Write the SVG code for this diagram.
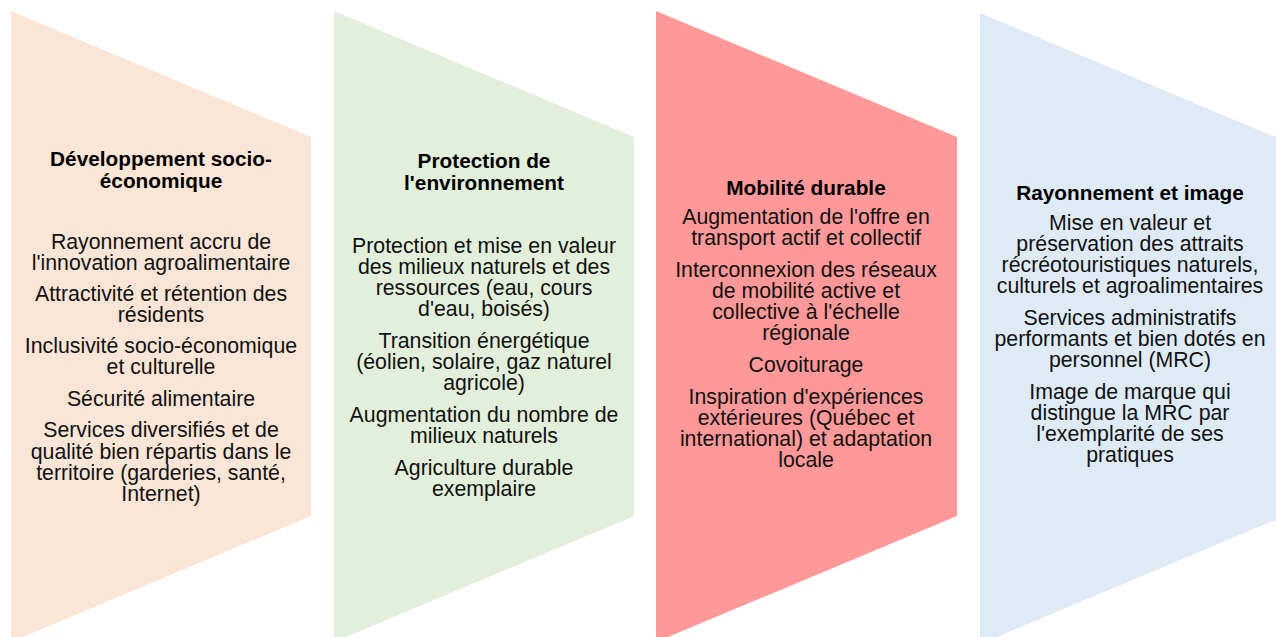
<svg xmlns="http://www.w3.org/2000/svg" width="1276" height="637" viewBox="0 0 1276 637">
<style>
text{font-family:"Liberation Sans",Arial,sans-serif;font-size:21.3px;fill:#111;text-anchor:middle}
.t{font-weight:bold;font-size:20.8px;fill:#000}
</style>
<rect width="1276" height="637" fill="#fff"/>
<g id="n1">
<polygon points="11,11 311,137 311,516 11,642" fill="#FBE5D6"/>
<text x="161" y="166" class="t">Développement socio-</text>
<text x="161" y="188" class="t">économique</text>
<text x="161" y="249">Rayonnement accru de</text>
<text x="161" y="270">l'innovation agroalimentaire</text>
<text x="161" y="301">Attractivité et rétention des</text>
<text x="161" y="322">résidents</text>
<text x="161" y="353">Inclusivité socio-économique</text>
<text x="161" y="374">et culturelle</text>
<text x="161" y="406">Sécurité alimentaire</text>
<text x="161" y="437">Services diversifiés et de</text>
<text x="161" y="459">qualité bien répartis dans le</text>
<text x="161" y="480">territoire (garderies, santé,</text>
<text x="161" y="501">Internet)</text>
</g>
<g id="n2">
<polygon points="334,11 634,137 634,516 334,642" fill="#E2EFDA"/>
<text x="484" y="168" class="t">Protection de</text>
<text x="484" y="190" class="t">l'environnement</text>
<text x="484" y="253">Protection et mise en valeur</text>
<text x="484" y="274">des milieux naturels et des</text>
<text x="484" y="295">ressources (eau, cours</text>
<text x="484" y="316">d'eau, boisés)</text>
<text x="484" y="348">Transition énergétique</text>
<text x="484" y="369">(éolien, solaire, gaz naturel</text>
<text x="484" y="390">agricole)</text>
<text x="484" y="422">Augmentation du nombre de</text>
<text x="484" y="443">milieux naturels</text>
<text x="484" y="475">Agriculture durable</text>
<text x="484" y="496">exemplaire</text>
</g>
<g id="n3">
<polygon points="656,11 957,137 957,516 656,642" fill="#FF9999"/>
<text x="806" y="195" class="t">Mobilité durable</text>
<text x="806" y="224">Augmentation de l'offre en</text>
<text x="806" y="245">transport actif et collectif</text>
<text x="806" y="277">Interconnexion des réseaux</text>
<text x="806" y="298">de mobilité active et</text>
<text x="806" y="319">collective à l'échelle</text>
<text x="806" y="340">régionale</text>
<text x="806" y="372">Covoiturage</text>
<text x="806" y="404">Inspiration d'expériences</text>
<text x="806" y="425">extérieures (Québec et</text>
<text x="806" y="446">international) et adaptation</text>
<text x="806" y="467">locale</text>
</g>
<g id="n4">
<polygon points="980,13 1280,139 1280,518 980,644" fill="#DEEBF7"/>
<text x="1130" y="200" class="t">Rayonnement et image</text>
<text x="1130" y="230">Mise en valeur et</text>
<text x="1130" y="251">préservation des attraits</text>
<text x="1130" y="272">récréotouristiques naturels,</text>
<text x="1130" y="293">culturels et agroalimentaires</text>
<text x="1130" y="325">Services administratifs</text>
<text x="1130" y="346">performants et bien dotés en</text>
<text x="1130" y="367">personnel (MRC)</text>
<text x="1130" y="399">Image de marque qui</text>
<text x="1130" y="420">distingue la MRC par</text>
<text x="1130" y="441">l'exemplarité de ses</text>
<text x="1130" y="462">pratiques</text>
</g>
<g id="connectors"></g>
</svg>
